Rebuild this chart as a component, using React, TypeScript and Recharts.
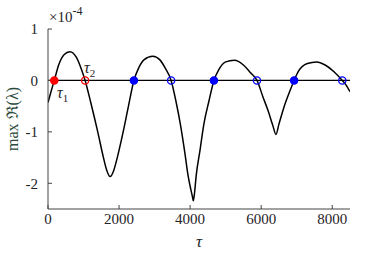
import {
  ComposedChart,
  Line,
  Scatter,
  XAxis,
  YAxis,
  ReferenceLine,
  Label,
} from "recharts";

// tau values and max Re(lambda) in units of 1e-4
const TAU = [
  0, 100, 177, 300, 450, 616, 800, 950, 1045,
  1200, 1400, 1550, 1650, 1750, 1850, 1950, 2100, 2250, 2418,
  2550, 2700, 2950, 3150, 3300, 3465,
  3600, 3725, 3850, 3938, 4020, 4065, 4090, 4115, 4174, 4280, 4387, 4530, 4670,
  4800, 5000, 5245, 5500, 5700, 5882,
  6050, 6200, 6330, 6415, 6500, 6650, 6800, 6927,
  7050, 7300, 7563, 7800, 8050, 8283, 8400, 8500,
];
const MAX_RE = [
  -0.43, -0.18, 0, 0.3, 0.5, 0.56, 0.45, 0.2, 0,
  -0.42, -1.0, -1.47, -1.74, -1.87, -1.75, -1.5, -1.05, -0.55, 0,
  0.24, 0.4, 0.47, 0.4, 0.24, 0,
  -0.4, -0.85, -1.4, -1.83, -2.12, -2.26, -2.34, -2.24, -1.83, -1.35, -0.85, -0.4, 0,
  0.2, 0.36, 0.39, 0.3, 0.15, 0,
  -0.32, -0.6, -0.88, -1.05, -0.85, -0.5, -0.22, 0,
  0.18, 0.33, 0.36, 0.3, 0.17, 0, -0.1, -0.22,
];

const RED_FILLED = [177];
const RED_OPEN = [1045];
const BLUE_FILLED = [2418, 4670, 6927];
const BLUE_OPEN = [3465, 5882, 8283];

const X_TICKS = [0, 2000, 4000, 6000, 8000];
const Y_TICKS = [-2, -1, 0, 1];

const curve = TAU.map((t, i) => ({ tau: t, v: MAX_RE[i] }));
const toPts = (xs: number[]) => xs.map((t) => ({ tau: t, v: 0 }));

const FONT = "'Liberation Serif', 'DejaVu Serif', serif";
const TXT = "#1f2328";
const AXIS = "#444";

function Marker(color: string, filled: boolean) {
  return (props: { cx?: number; cy?: number }) => {
    const { cx = 0, cy = 0 } = props;
    return (
      <circle
        cx={cx}
        cy={cy}
        r={3.6}
        fill={filled ? color : "none"}
        stroke={color}
        strokeWidth={1.3}
      />
    );
  };
}

export default function App() {
  const tick = { fontSize: 15, fill: TXT, fontFamily: FONT };
  return (
    <div style={{ position: "absolute", left: 0, top: 0, width: 366, height: 259, background: "#fff" }}>
      <ComposedChart
        width={366}
        height={259}
        data={curve}
        margin={{ top: 29, right: 16, bottom: 20, left: 8 }}
      >
        <XAxis
          xAxisId="b"
          dataKey="tau"
          type="number"
          domain={[0, 8500]}
          ticks={X_TICKS}
          tick={tick}
          stroke={AXIS}
          tickSize={-4}
          tickMargin={8}
          height={30}
          allowDataOverflow
        >
          <Label
            value="τ"
            position="insideBottom"
            offset={-8}
            style={{ fontSize: 17, fontStyle: "italic", fill: TXT, fontFamily: FONT }}
          />
        </XAxis>
        <XAxis
          xAxisId="t"
          orientation="top"
          dataKey="tau"
          type="number"
          domain={[0, 8500]}
          ticks={X_TICKS}
          tick={false}
          stroke={AXIS}
          tickSize={-4}
          height={0}
          allowDataOverflow
        />
        <YAxis
          yAxisId="l"
          type="number"
          domain={[-2.5, 1]}
          ticks={Y_TICKS}
          tick={tick}
          stroke={AXIS}
          tickSize={-4}
          tickMargin={14}
          width={40}
          allowDataOverflow
        >
          <Label
            value="max ℜ(λ)"
            angle={-90}
            position="insideLeft"
            offset={4}
            style={{ fontSize: 16, fill: "#2c4a3c", fontFamily: FONT, textAnchor: "middle" }}
          />
        </YAxis>
        <YAxis
          yAxisId="r"
          orientation="right"
          type="number"
          domain={[-2.5, 1]}
          ticks={Y_TICKS}
          tick={false}
          stroke={AXIS}
          tickSize={-4}
          width={0}
          allowDataOverflow
        />
        <ReferenceLine xAxisId="b" yAxisId="l" y={0} stroke="#000" strokeWidth={1.2} />
        <Line
          xAxisId="b"
          yAxisId="l"
          dataKey="v"
          type="monotone"
          stroke="#000"
          strokeWidth={1.5}
          dot={false}
          isAnimationActive={false}
        />
        <Scatter xAxisId="b" yAxisId="l" data={toPts(RED_FILLED)} dataKey="v" shape={Marker("#ff0000", true)} isAnimationActive={false} />
        <Scatter xAxisId="b" yAxisId="l" data={toPts(RED_OPEN)} dataKey="v" shape={Marker("#ff0000", false)} isAnimationActive={false} />
        <Scatter xAxisId="b" yAxisId="l" data={toPts(BLUE_FILLED)} dataKey="v" shape={Marker("#0000ff", true)} isAnimationActive={false} />
        <Scatter xAxisId="b" yAxisId="l" data={toPts(BLUE_OPEN)} dataKey="v" shape={Marker("#0000ff", false)} isAnimationActive={false} />
      </ComposedChart>
      <svg width={366} height={259} style={{ position: "absolute", left: 0, top: 0, pointerEvents: "none" }}>
        <text x={49} y={22} fontSize={15} fill={TXT} fontFamily={FONT}>
          ×10
          <tspan dy={-7} fontSize={12}>-4</tspan>
        </text>
        <text x={57} y={98} fontSize={16} fontStyle="italic" fill={TXT} fontFamily={FONT}>
          τ<tspan dy={4} fontSize={11} fontStyle="normal">1</tspan>
        </text>
        <text x={84} y={73} fontSize={16} fontStyle="italic" fill={TXT} fontFamily={FONT}>
          τ<tspan dy={4} fontSize={11} fontStyle="normal">2</tspan>
        </text>
      </svg>
    </div>
  );
}
